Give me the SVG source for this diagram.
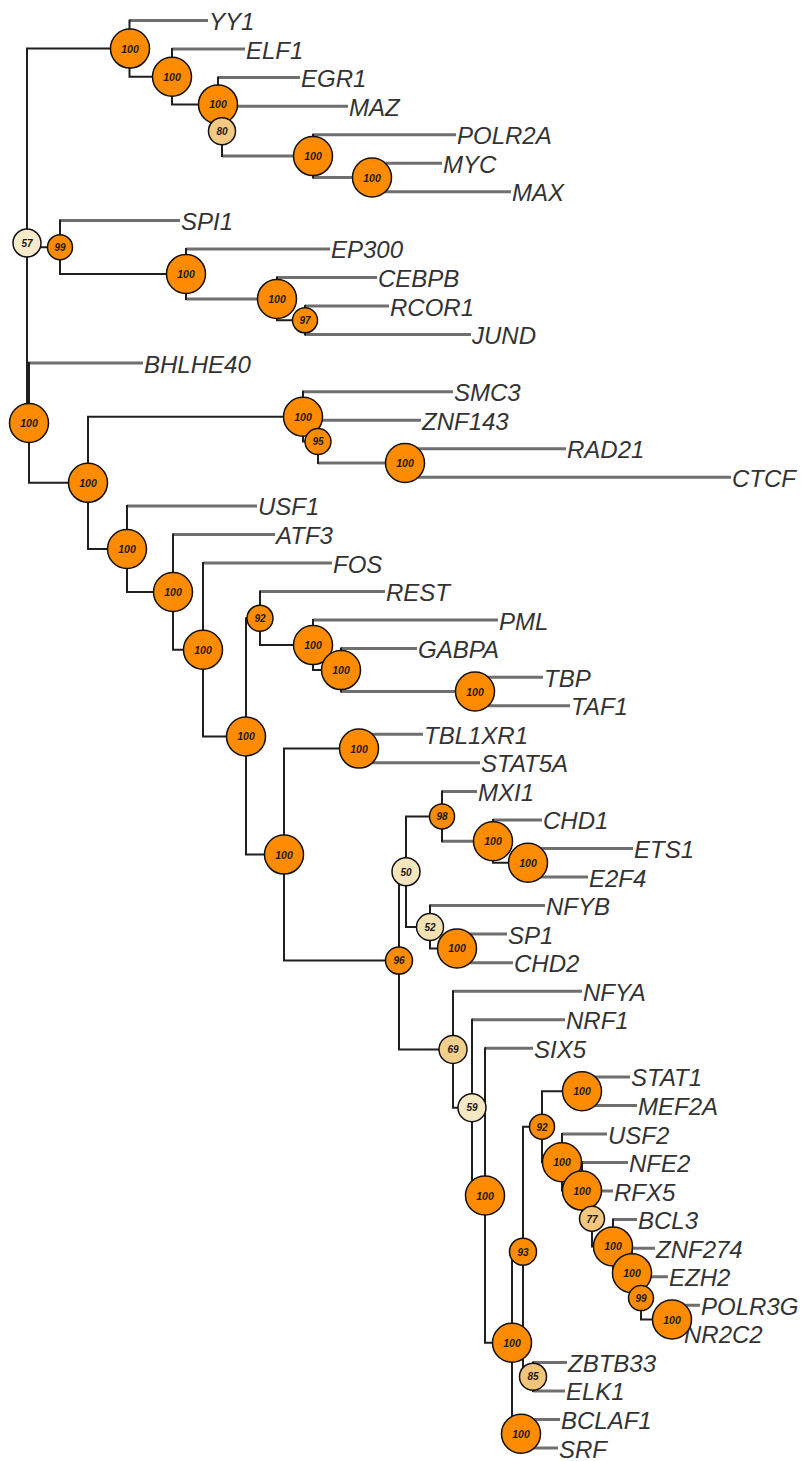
<svg xmlns="http://www.w3.org/2000/svg" width="803" height="1461" viewBox="0 0 803 1461">
<style>
.i{fill:none;stroke:#1f1f1f;stroke-width:2;stroke-linecap:square}
.t{fill:none;stroke:#6f6f6f;stroke-width:3}
.lab{font-family:"Liberation Sans",Arial,sans-serif;font-style:italic;font-size:24px;fill:#333}
.c{stroke:#111;stroke-width:1.5}
.o{fill:#FF8C00}
.nl{font-family:"Liberation Sans",Arial,sans-serif;font-style:italic;font-weight:bold;font-size:10.5px;fill:#1a1a1a;text-anchor:middle}
.ns{font-size:10px}
</style>
<g id="connectors">
<path class="t" d="M129.5 20.5H208M172 49.1H245M218 77.6H300M222 106.2H348M313 134.7H456M372 163.3H442M372 191.8H511
M60 220.4H180M186 248.9H330M277 277.5H377M305 306H389M305 334.6H471M27 363.1H143
M303 391.7H453M318 420.2H421M405 448.8H566M405 477.3H731M127 505.9H257M173 534.4H275M203 563H332
M260 591.5H385M313 620.1H498M341 648.6H417M475 677.2H543M475 705.7H570M359 734.3H423M359 762.8H480
M442 791.4H477M493 819.9H542M528 848.5H633M528 877H588M430 905.6H545M457 934.1H507M457 962.7H513
M453 991.2H582M472 1019.8H565M485 1048.3H533M582 1076.9H630M582 1105.4H637M562 1134H607M582 1162.5H628
M592 1191.1H613M613 1219.6H637M632 1248.2H655M641 1276.7H668M672 1305.3H700M672 1333.8H683
M533 1362.4H567M533 1390.9H565M521 1419.5H560M521 1448H558
M222 156.1H313M313 177.55H372M186 298.9H277M318 463.05H405M341 691.5H475M442 841.3H493"/>
<path class="i" d="M27 48.6V423M27 48.6H129.5M129.5 20.5V76.8M129.5 76.8H172M172 49.1V104.4M172 104.4H218M218 77.6V131.2M218 131.2H222M222 106.2V156.1M313 134.7V177.55M372 163.3V191.8
M27 247.2H60M60 220.4V273.9M60 273.9H186M186 248.9V298.9M277 277.5V320.3M277 320.3H305M305 306V334.6
M29 363.1V482.85M29 482.85H88M88 416.7V549M88 416.7H303M303 391.7V441.6M303 441.6H318M318 420.2V463.05M405 448.8V477.3
M88 549H127M127 505.9V592.05M127 592.05H173M173 534.4V649.7M173 649.7H203M203 563V736.45M203 736.45H246
M246 618.3V854.6M246 618.3H260M260 591.5V645.1M260 645.1H313M313 620.1V670.1M313 670.1H341M341 648.6V691.5M475 677.2V705.7
M246 854.6H284M284 748.6V960.55M284 748.6H359M359 734.3V762.8M284 960.55H399M399 871.7V1049.4M399 871.7H406
M406 816.4V927M406 816.4H442M442 791.4V841.3M493 819.9V862.75M493 862.75H528M528 848.5V877
M406 927H430M430 905.6V948.4M430 948.4H457M457 934.1V962.7
M399 1049.4H453M453 991.2V1107.65M453 1107.65H472M472 1019.8V1195.5M472 1195.5H485M485 1048.3V1342.7M485 1342.7H512
M512 1251.7V1433.75M512 1251.7H523M523 1126.7V1376.65M523 1126.7H542M542 1091.15V1162.3M542 1091.15H582M582 1076.9V1105.4
M542 1162.3H562M562 1134V1190.6M562 1190.6H582M582 1162.5V1218.75M582 1218.75H592M592 1191.1V1246.4M592 1246.4H613
M613 1219.6V1273.15M613 1273.15H632M632 1248.2V1298.1M632 1298.1H641M641 1276.7V1319.55M641 1319.55H672M672 1305.3V1333.8
M523 1376.65H533M533 1362.4V1390.9M512 1433.75H521M521 1419.5V1448"/>
</g>
<g id="leaves" class="lab">
<text id="leaf-YY1" x="209" y="30">YY1</text>
<text id="leaf-ELF1" x="246" y="58.6">ELF1</text>
<text id="leaf-EGR1" x="301" y="87.1">EGR1</text>
<text id="leaf-MAZ" x="349" y="115.7">MAZ</text>
<text id="leaf-POLR2A" x="457" y="144.2">POLR2A</text>
<text id="leaf-MYC" x="443" y="172.8">MYC</text>
<text id="leaf-MAX" x="512" y="201.3">MAX</text>
<text id="leaf-SPI1" x="181" y="229.9">SPI1</text>
<text id="leaf-EP300" x="331" y="258.4">EP300</text>
<text id="leaf-CEBPB" x="378" y="287">CEBPB</text>
<text id="leaf-RCOR1" x="390" y="315.5">RCOR1</text>
<text id="leaf-JUND" x="472" y="344.1">JUND</text>
<text id="leaf-BHLHE40" x="144" y="372.6">BHLHE40</text>
<text id="leaf-SMC3" x="454" y="401.2">SMC3</text>
<text id="leaf-ZNF143" x="422" y="429.7">ZNF143</text>
<text id="leaf-RAD21" x="567" y="458.3">RAD21</text>
<text id="leaf-CTCF" x="732" y="486.8">CTCF</text>
<text id="leaf-USF1" x="258" y="515.4">USF1</text>
<text id="leaf-ATF3" x="276" y="543.9">ATF3</text>
<text id="leaf-FOS" x="333" y="572.5">FOS</text>
<text id="leaf-REST" x="386" y="601">REST</text>
<text id="leaf-PML" x="499" y="629.6">PML</text>
<text id="leaf-GABPA" x="418" y="658.1">GABPA</text>
<text id="leaf-TBP" x="544" y="686.7">TBP</text>
<text id="leaf-TAF1" x="571" y="715.2">TAF1</text>
<text id="leaf-TBL1XR1" x="424" y="743.8">TBL1XR1</text>
<text id="leaf-STAT5A" x="481" y="772.3">STAT5A</text>
<text id="leaf-MXI1" x="478" y="800.9">MXI1</text>
<text id="leaf-CHD1" x="543" y="829.4">CHD1</text>
<text id="leaf-ETS1" x="634" y="858">ETS1</text>
<text id="leaf-E2F4" x="589" y="886.5">E2F4</text>
<text id="leaf-NFYB" x="546" y="915.1">NFYB</text>
<text id="leaf-SP1" x="508" y="943.6">SP1</text>
<text id="leaf-CHD2" x="514" y="972.2">CHD2</text>
<text id="leaf-NFYA" x="583" y="1000.7">NFYA</text>
<text id="leaf-NRF1" x="566" y="1029.3">NRF1</text>
<text id="leaf-SIX5" x="534" y="1057.8">SIX5</text>
<text id="leaf-STAT1" x="631" y="1086.4">STAT1</text>
<text id="leaf-MEF2A" x="638" y="1114.9">MEF2A</text>
<text id="leaf-USF2" x="608" y="1143.5">USF2</text>
<text id="leaf-NFE2" x="629" y="1172">NFE2</text>
<text id="leaf-RFX5" x="614" y="1200.6">RFX5</text>
<text id="leaf-BCL3" x="638" y="1229.1">BCL3</text>
<text id="leaf-ZNF274" x="656" y="1257.7">ZNF274</text>
<text id="leaf-EZH2" x="669" y="1286.2">EZH2</text>
<text id="leaf-POLR3G" x="701" y="1314.8">POLR3G</text>
<text id="leaf-NR2C2" x="684" y="1343.3">NR2C2</text>
<text id="leaf-ZBTB33" x="568" y="1371.9">ZBTB33</text>
<text id="leaf-ELK1" x="566" y="1400.4">ELK1</text>
<text id="leaf-BCLAF1" x="561" y="1429">BCLAF1</text>
<text id="leaf-SRF" x="559" y="1457.5">SRF</text>
</g>
<g id="nodes">
<g id="n-A"><circle class="c o" cx="130" cy="48.6" r="19.5"/><text class="nl" x="130" y="52.6">100</text></g>
<g id="n-B"><circle class="c o" cx="172" cy="76.8" r="19.5"/><text class="nl" x="172" y="80.8">100</text></g>
<g id="n-D"><circle class="c o" cx="218" cy="104.4" r="19.5"/><text class="nl" x="218" y="108.4">100</text></g>
<g id="n-C80"><circle class="c" fill="#F4C983" cx="222" cy="131.2" r="13.5"/><text class="nl ns" x="222" y="135">80</text></g>
<g id="n-E"><circle class="c o" cx="313" cy="156.1" r="19.5"/><text class="nl" x="313" y="160.1">100</text></g>
<g id="n-F"><circle class="c o" cx="372" cy="177.55" r="19.5"/><text class="nl" x="372" y="181.5">100</text></g>
<g id="n-57"><circle class="c" fill="#F7EBCB" cx="27" cy="243" r="14"/><text class="nl ns" x="27" y="246.8">57</text></g>
<g id="n-N99"><circle class="c o" cx="60" cy="247.2" r="12.5"/><text class="nl ns" x="60" y="251">99</text></g>
<g id="n-EP"><circle class="c o" cx="186" cy="273.9" r="19.5"/><text class="nl" x="186" y="277.9">100</text></g>
<g id="n-CEB"><circle class="c o" cx="277" cy="298.9" r="19.5"/><text class="nl" x="277" y="302.9">100</text></g>
<g id="n-97"><circle class="c o" cx="305" cy="320.3" r="12.5"/><text class="nl ns" x="305" y="324.1">97</text></g>
<g id="n-ZN"><circle class="c o" cx="303" cy="416.7" r="19.5"/><text class="nl" x="303" y="420.7">100</text></g>
<g id="n-root"><circle class="c o" cx="29" cy="423" r="19.5"/><text class="nl" x="29" y="427">100</text></g>
<g id="n-95"><circle class="c o" cx="318" cy="441.6" r="13"/><text class="nl ns" x="318" y="445.4">95</text></g>
<g id="n-RR"><circle class="c o" cx="405" cy="463.05" r="19.5"/><text class="nl" x="405" y="467">100</text></g>
<g id="n-G"><circle class="c o" cx="88" cy="482.85" r="19.5"/><text class="nl" x="88" y="486.8">100</text></g>
<g id="n-H"><circle class="c o" cx="127" cy="549" r="19.5"/><text class="nl" x="127" y="553">100</text></g>
<g id="n-I"><circle class="c o" cx="173" cy="592.05" r="19.5"/><text class="nl" x="173" y="596">100</text></g>
<g id="n-92a"><circle class="c o" cx="260" cy="618.3" r="13"/><text class="nl ns" x="260" y="622.1">92</text></g>
<g id="n-L"><circle class="c o" cx="313" cy="645.1" r="19.5"/><text class="nl" x="313" y="649.1">100</text></g>
<g id="n-J"><circle class="c o" cx="203" cy="649.7" r="19.5"/><text class="nl" x="203" y="653.7">100</text></g>
<g id="n-M"><circle class="c o" cx="341" cy="670.1" r="19.5"/><text class="nl" x="341" y="674.1">100</text></g>
<g id="n-N"><circle class="c o" cx="475" cy="691.5" r="19.5"/><text class="nl" x="475" y="695.5">100</text></g>
<g id="n-K"><circle class="c o" cx="246" cy="736.45" r="19.5"/><text class="nl" x="246" y="740.4">100</text></g>
<g id="n-O"><circle class="c o" cx="359" cy="748.6" r="19.5"/><text class="nl" x="359" y="752.6">100</text></g>
<g id="n-98"><circle class="c o" cx="442" cy="816.4" r="12.5"/><text class="nl ns" x="442" y="820.2">98</text></g>
<g id="n-V"><circle class="c o" cx="493" cy="841.3" r="19.5"/><text class="nl" x="493" y="845.3">100</text></g>
<g id="n-P"><circle class="c o" cx="284" cy="854.6" r="19.5"/><text class="nl" x="284" y="858.6">100</text></g>
<g id="n-W"><circle class="c o" cx="528" cy="862.75" r="19.5"/><text class="nl" x="528" y="866.7">100</text></g>
<g id="n-50"><circle class="c" fill="#F6E6BE" cx="406" cy="871.7" r="14"/><text class="nl ns" x="406" y="875.5">50</text></g>
<g id="n-52"><circle class="c" fill="#F5E0B3" cx="430" cy="927" r="13.5"/><text class="nl ns" x="430" y="930.8">52</text></g>
<g id="n-X"><circle class="c o" cx="457" cy="948.4" r="19.5"/><text class="nl" x="457" y="952.4">100</text></g>
<g id="n-96"><circle class="c o" cx="399" cy="960.55" r="13.5"/><text class="nl ns" x="399" y="964.3">96</text></g>
<g id="n-69"><circle class="c" fill="#F3CF8C" cx="453" cy="1049.4" r="14"/><text class="nl ns" x="453" y="1053.2">69</text></g>
<g id="n-GG"><circle class="c o" cx="582" cy="1091.15" r="19.5"/><text class="nl" x="582" y="1095.1">100</text></g>
<g id="n-59"><circle class="c" fill="#F6E8C3" cx="472" cy="1107.65" r="14"/><text class="nl ns" x="472" y="1111.4">59</text></g>
<g id="n-92b"><circle class="c o" cx="542" cy="1126.7" r="12.5"/><text class="nl ns" x="542" y="1130.5">92</text></g>
<g id="n-HH"><circle class="c o" cx="562" cy="1162.3" r="19.5"/><text class="nl" x="562" y="1166.3">100</text></g>
<g id="n-II"><circle class="c o" cx="582" cy="1190.6" r="19.5"/><text class="nl" x="582" y="1194.6">100</text></g>
<g id="n-AA"><circle class="c o" cx="485" cy="1195.5" r="19.5"/><text class="nl" x="485" y="1199.5">100</text></g>
<g id="n-77"><circle class="c" fill="#F4C77E" cx="592" cy="1218.75" r="12.5"/><text class="nl ns" x="592" y="1222.5">77</text></g>
<g id="n-KK"><circle class="c o" cx="613" cy="1246.4" r="19.5"/><text class="nl" x="613" y="1250.4">100</text></g>
<g id="n-93"><circle class="c o" cx="523" cy="1251.7" r="13.5"/><text class="nl ns" x="523" y="1255.5">93</text></g>
<g id="n-LL"><circle class="c o" cx="632" cy="1273.15" r="19.5"/><text class="nl" x="632" y="1277.1">100</text></g>
<g id="n-99b"><circle class="c o" cx="641" cy="1298.1" r="12.5"/><text class="nl ns" x="641" y="1301.9">99</text></g>
<g id="n-MM"><circle class="c o" cx="672" cy="1319.55" r="19.5"/><text class="nl" x="672" y="1323.5">100</text></g>
<g id="n-BB"><circle class="c o" cx="512" cy="1342.7" r="19.5"/><text class="nl" x="512" y="1346.7">100</text></g>
<g id="n-85"><circle class="c" fill="#F3C47C" cx="533" cy="1376.65" r="13.5"/><text class="nl ns" x="533" y="1380.4">85</text></g>
<g id="n-FF"><circle class="c o" cx="521" cy="1433.75" r="19.5"/><text class="nl" x="521" y="1437.7">100</text></g>
</g>
</svg>
